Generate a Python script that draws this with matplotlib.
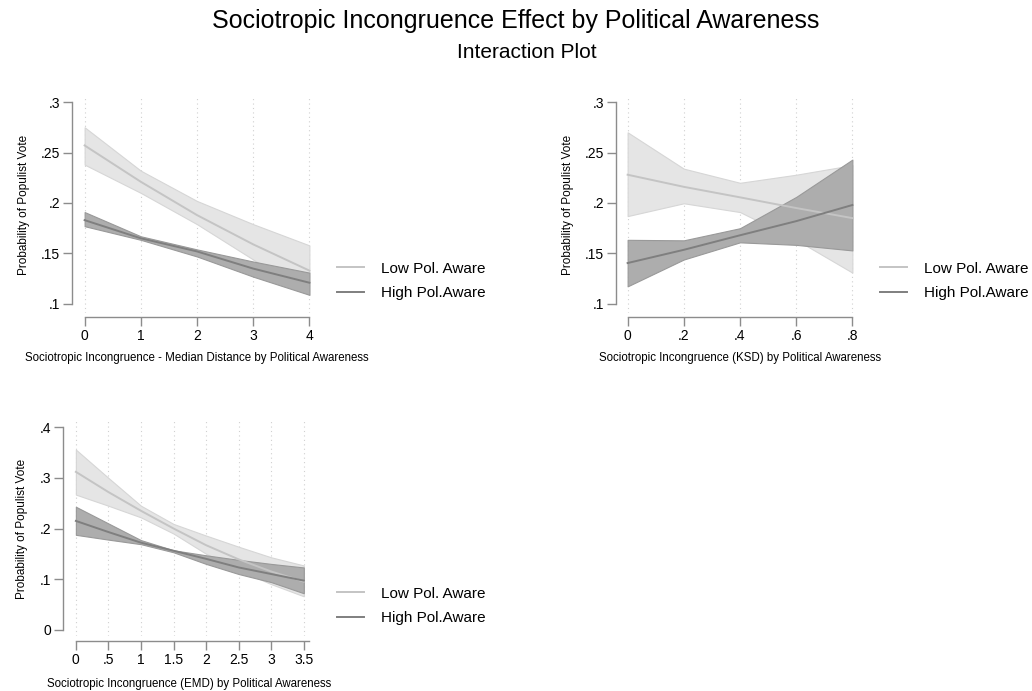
import matplotlib
matplotlib.use("Agg")
import matplotlib.pyplot as plt

plt.rcParams['font.family'] = ['Liberation Sans', 'DejaVu Sans']

# median distance panel
md_x = [0, 1, 2, 3, 4]
md_low = [0.257, 0.221, 0.188, 0.159, 0.133]
md_low_lo = [0.238, 0.210, 0.179, 0.144, 0.109]
md_low_hi = [0.275, 0.232, 0.202, 0.179, 0.158]
md_high = [0.183, 0.165, 0.152, 0.135, 0.121]
md_high_lo = [0.177, 0.1635, 0.147, 0.127, 0.109]
md_high_hi = [0.191, 0.167, 0.154, 0.142, 0.131]

# KSD panel
ksd_x = [0, 0.2, 0.4, 0.6, 0.8]
ksd_low = [0.228, 0.216, 0.2056, 0.195, 0.185]
ksd_low_lo = [0.187, 0.1997, 0.191, 0.1635, 0.131]
ksd_low_hi = [0.270, 0.234, 0.220, 0.228, 0.2375]
ksd_high = [0.1405, 0.1536, 0.168, 0.182, 0.198]
ksd_high_lo = [0.1174, 0.144, 0.161, 0.1585, 0.153]
ksd_high_hi = [0.1635, 0.163, 0.175, 0.206, 0.243]

# EMD panel
emd_x = [0, 0.5, 1, 1.5, 2, 2.5, 3, 3.5]
emd_low = [0.312, 0.272, 0.235, 0.200, 0.167, 0.139, 0.115, 0.095]
emd_low_lo = [0.267, 0.245, 0.222, 0.190, 0.150, 0.118, 0.090, 0.066]
emd_low_hi = [0.356, 0.300, 0.245, 0.209, 0.186, 0.164, 0.143, 0.127]
emd_high = [0.215, 0.193, 0.172, 0.156, 0.140, 0.123, 0.110, 0.097]
emd_high_lo = [0.1875, 0.178, 0.169, 0.153, 0.130, 0.110, 0.094, 0.072]
emd_high_hi = [0.243, 0.210, 0.177, 0.157, 0.147, 0.138, 0.130, 0.123]

series_names = ['Low Pol. Aware', 'High Pol.Aware']

LIGHT_BAND, LIGHT_EDGE, LIGHT_LINE = '#e5e5e5', '#d6d6d6', '#c4c4c4'
DARK_BAND, DARK_EDGE, DARK_LINE = '#adadad', '#999999', '#7f7f7f'

W, H = 1032, 691
fig = plt.figure(figsize=(W / 100, H / 100), dpi=100)
PT = 72 / 100  # points per pixel


def px_axes(x0, x1, y0, y1):
    # pixel box -> figure fraction
    return fig.add_axes([x0 / W, 1 - y1 / H, (x1 - x0) / W, (y1 - y0) / H])


def panel(box, x, low, low_lo, low_hi, high, high_lo, high_hi,
          xlim, ylim, xticks, xlabels, yticks, ylabels, xlabel,
          ybounds, xbounds, left_out, bottom_out, xpad, leg_xy):
    ax = px_axes(*box)
    ax.fill_between(x, low_lo, low_hi, color=LIGHT_BAND, ec=LIGHT_EDGE, lw=0.8, zorder=1)
    ax.fill_between(x, high_lo, high_hi, color=DARK_BAND, ec=DARK_EDGE, lw=0.8, zorder=2)
    l1, = ax.plot(x, low, color=LIGHT_LINE, lw=1.4, zorder=3)
    l2, = ax.plot(x, high, color=DARK_LINE, lw=1.4, zorder=4)
    ax.set_xlim(*xlim)
    ax.set_ylim(*ylim)
    for xv in xticks:
        ax.axvline(xv, color='#d0d0d0', lw=0.8, ls=(0, (1, 3)), zorder=0)
    ax.set_xticks(xticks, xlabels, fontsize=13.5)
    ax.set_yticks(yticks, ylabels, fontsize=13.5)
    ax.set_xlabel(xlabel, fontsize=8.3, labelpad=xpad)
    ax.set_ylabel('Probability of Populist Vote', fontsize=8.5, labelpad=8)
    for s in ('top', 'right'):
        ax.spines[s].set_visible(False)
    ax.spines['left'].set_position(('outward', left_out * PT))
    ax.spines['bottom'].set_position(('outward', bottom_out * PT))
    ax.spines['left'].set_bounds(*ybounds)
    ax.spines['bottom'].set_bounds(*xbounds)
    for s in ('left', 'bottom'):
        ax.spines[s].set_color('#8c8c8c')
        ax.spines[s].set_linewidth(1.0)
    ax.tick_params(colors='#8c8c8c', labelcolor='black', length=6.5, width=1.0, pad=2)
    ax.set_facecolor('none')
    fig.legend([l1, l2], series_names, loc='center left',
               bbox_to_anchor=(leg_xy[0] / W, 1 - leg_xy[1] / H),
               frameon=False, fontsize=11, handlelength=1.75, handletextpad=1.1,
               labelspacing=0.68, borderpad=0, borderaxespad=0)
    return ax


panel((79, 315, 97, 313), md_x, md_low, md_low_lo, md_low_hi,
      md_high, md_high_lo, md_high_hi,
      (-0.1, 4.1), (0.091, 0.305), md_x, ['0', '1', '2', '3', '4'],
      [0.1, 0.15, 0.2, 0.25, 0.3], ['.1', '.15', '.2', '.25', '.3'],
      'Sociotropic Incongruence - Median Distance by Political Awareness',
      (0.1, 0.3), (0, 4), 7, 4, 6.5, (337, 281))

panel((622, 858, 97, 313), ksd_x, ksd_low, ksd_low_lo, ksd_low_hi,
      ksd_high, ksd_high_lo, ksd_high_hi,
      (-0.02, 0.82), (0.091, 0.305), ksd_x, ['0', '.2', '.4', '.6', '.8'],
      [0.1, 0.15, 0.2, 0.25, 0.3], ['.1', '.15', '.2', '.25', '.3'],
      'Sociotropic Incongruence (KSD) by Political Awareness',
      (0.1, 0.3), (0, 0.8), 6, 4, 6.5, (880, 281))

panel((70, 309, 421, 636), emd_x, emd_low, emd_low_lo, emd_low_hi,
      emd_high, emd_high_lo, emd_high_hi,
      (-0.09, 3.58), (-0.0125, 0.4125), emd_x,
      ['0', '.5', '1', '1.5', '2', '2.5', '3', '3.5'],
      [0, 0.1, 0.2, 0.3, 0.4], ['0', '.1', '.2', '.3', '.4'],
      'Sociotropic Incongruence (EMD) by Political Awareness',
      (0, 0.4), (0, 3.58), 7, 5, 8, (337, 606))

fig.text(0.5, 1 - 21 / H, 'Sociotropic Incongruence Effect by Political Awareness',
         ha='center', va='center', fontsize=18)
fig.text(527 / W, 1 - 53 / H, 'Interaction Plot', ha='center', va='center', fontsize=15)

fig.savefig('out.png', dpi=100, facecolor='white')
